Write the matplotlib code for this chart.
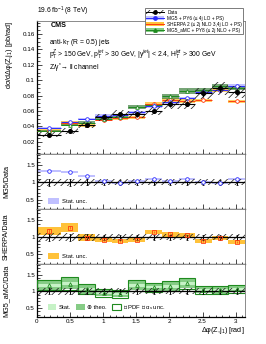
import matplotlib.pyplot as plt
import matplotlib.patches as mpatches
from matplotlib.lines import Line2D
from matplotlib.ticker import MultipleLocator, FuncFormatter
import numpy as np

plt.rcParams['font.family'] = ['Liberation Sans', 'DejaVu Sans']
plt.rcParams['mathtext.fontset'] = 'custom'
plt.rcParams['mathtext.rm'] = 'Liberation Sans'
plt.rcParams['mathtext.it'] = 'Liberation Sans:italic'
plt.rcParams['mathtext.bf'] = 'Liberation Sans:bold'
plt.rcParams['hatch.linewidth'] = 0.55

# binning in delta phi(Z, j1)
edges = np.array([0.0, 0.37, 0.62, 0.88, 1.13, 1.38, 1.63, 1.89, 2.14, 2.39, 2.64, 2.89, 3.1416])

# measured cross section [pb/rad] and relative uncertainties
data_xs = np.array([0.029, 0.0345, 0.042, 0.052, 0.0565, 0.0555, 0.060, 0.069, 0.0695, 0.083, 0.0895, 0.0845])
data_stat = np.array([0.07, 0.07, 0.06, 0.05, 0.05, 0.05, 0.05, 0.05, 0.05, 0.05, 0.05, 0.05])
data_unc = np.array([0.11, 0.11, 0.10, 0.09, 0.09, 0.09, 0.09, 0.09, 0.09, 0.09, 0.09, 0.09])

# theory / data ratios
mg5_ratio = np.array([1.33, 1.31, 1.19, 1.04, 0.97, 1.05, 1.10, 1.03, 1.10, 1.02, 0.98, 1.09])
mg5_unc = np.array([0.03] * 12)
sherpa_ratio = np.array([1.185, 1.28, 0.99, 0.93, 0.89, 0.93, 1.15, 1.08, 1.05, 0.89, 0.98, 0.86])
sherpa_unc = np.array([0.12, 0.13, 0.09, 0.07, 0.07, 0.07, 0.07, 0.07, 0.06, 0.06, 0.06, 0.06])
amc_ratio = np.array([1.18, 1.23, 1.07, 0.96, 0.92, 1.18, 1.12, 1.15, 1.24, 1.05, 1.03, 1.07])
amc_stat = np.array([0.04, 0.05, 0.04, 0.03, 0.03, 0.04, 0.03, 0.04, 0.04, 0.03, 0.03, 0.03])
amc_theo = np.array([0.13, 0.16, 0.14, 0.10, 0.09, 0.15, 0.11, 0.13, 0.15, 0.10, 0.10, 0.10])
amc_tot = np.array([0.15, 0.19, 0.16, 0.12, 0.11, 0.17, 0.13, 0.15, 0.17, 0.12, 0.12, 0.12])

centers = 0.5 * (edges[:-1] + edges[1:])
widths = np.diff(edges)
hw = 0.5 * widths

mg5 = data_xs * mg5_ratio
sherpa = data_xs * sherpa_ratio
amc = data_xs * amc_ratio

blue = '#2b2bff'
lblue = '#c0c0ff'
red = '#ff3a10'
orange = '#ffc23a'
green = '#1f8a1f'
lgreen = '#c6f2c6'
mgreen = '#86cc86'

fig = plt.figure(figsize=(2.66, 3.44), dpi=100)
L, W = 0.139, 0.782
ax0 = fig.add_axes([L, 0.552, W, 0.387])
ax1 = fig.add_axes([L, 0.392, W, 0.160])
ax2 = fig.add_axes([L, 0.233, W, 0.159])
ax3 = fig.add_axes([L, 0.078, W, 0.155])
axes = [ax0, ax1, ax2, ax3]

fs = 4.5
lfs = 5.2
fmt = FuncFormatter(lambda v, p: '%g' % round(v, 3))
for ax in axes:
    ax.set_xlim(0, np.pi)
    ax.tick_params(which='both', direction='in', labelsize=fs, pad=1.5, width=0.5,
                   top=False, right=False)
    ax.tick_params(which='major', length=3.5)
    ax.tick_params(which='minor', length=1.8)
    ax.xaxis.set_major_locator(MultipleLocator(0.5))
    ax.xaxis.set_minor_locator(MultipleLocator(0.1))
    ax.xaxis.set_major_formatter(fmt)
    ax.yaxis.set_major_formatter(fmt)
    for s in ['left', 'bottom']:
        ax.spines[s].set_linewidth(0.9)
        ax.spines[s].set_color('black')
    for s in ['top', 'right']:
        ax.spines[s].set_linewidth(0.6)
        ax.spines[s].set_color('#777777')
    if ax is not ax3:
        ax.tick_params(labelbottom=False)

# ---- main panel
ax0.set_ylim(0.004, 0.177)
ax0.yaxis.set_major_locator(MultipleLocator(0.02))
ax0.yaxis.set_minor_locator(MultipleLocator(0.005))

ax0.bar(centers, 2 * mg5 * mg5_unc, bottom=mg5 * (1 - mg5_unc), width=widths,
        color=lblue, lw=0, zorder=1)
ax0.bar(centers, 2 * sherpa * sherpa_unc * 0.5, bottom=sherpa * (1 - sherpa_unc * 0.5),
        width=widths, color=orange, alpha=0.8, lw=0, zorder=1)
ax0.bar(centers, 2 * amc * amc_stat, bottom=amc * (1 - amc_stat), width=widths,
        color='#3f7f3f', alpha=0.7, lw=0, zorder=1)
ax0.errorbar(centers, sherpa, xerr=hw, yerr=sherpa * sherpa_unc * 0.6, fmt='o', ms=2.6,
             mfc='white', mec=red, color=red, lw=0.7, mew=0.6, zorder=3)
ax0.errorbar(centers, amc, xerr=hw, fmt='^', ms=2.6, mfc='white', mec=green,
             color=green, lw=0.7, mew=0.6, zorder=3)
ax0.errorbar(centers, mg5, xerr=hw, fmt='o', ms=2.6, mfc='white', mec=blue,
             color=blue, lw=0.7, mew=0.6, zorder=3)
ax0.bar(centers, 2 * data_xs * data_unc, bottom=data_xs * (1 - data_unc), width=widths,
        fill=False, hatch='/////', edgecolor='#222222', lw=0, zorder=4)
ax0.errorbar(centers, data_xs, xerr=hw, yerr=data_xs * data_stat, fmt='o', ms=2.6,
             color='black', lw=0.8, zorder=5)

ax0.set_ylabel('dσ/dΔφ(Z,j$_1$) [pb/rad]', fontsize=lfs, loc='top')
ax0.yaxis.set_label_coords(-0.105, 1.0)

ax0.text(0.0, 1.025, '19.6 fb$^{-1}$ (8 TeV)', transform=ax0.transAxes, fontsize=4.8,
         ha='left', va='bottom')
ax0.text(0.065, 0.965, 'CMS', transform=ax0.transAxes, fontsize=5.2, weight='bold',
         ha='left', va='center')
ax0.text(0.058, 0.835, 'anti-k$_T$ (R = 0.5) jets', transform=ax0.transAxes, fontsize=4.9,
         ha='left', va='center')
ax0.text(0.058, 0.745,
         'p$_T^Z$ > 150 GeV, p$_T^{jet}$ > 30 GeV, |y$^{jet}$| < 2.4, H$_T^{jet}$ > 300 GeV',
         transform=ax0.transAxes, fontsize=4.9, ha='left', va='center')
ax0.text(0.058, 0.645, 'Z/γ$^{*}$→ ll channel', transform=ax0.transAxes, fontsize=4.9,
         ha='left', va='center')

# legend
h_data = (mpatches.Patch(facecolor='none', edgecolor='#222222', hatch='/////', lw=0),
          Line2D([], [], color='black', marker='o', ms=2.4, lw=0.7))
h_mg5 = (mpatches.Patch(color=lblue, lw=0),
         Line2D([], [], color=blue, marker='o', ms=2.4, lw=0.7))
h_sh = (mpatches.Patch(color=orange, lw=0),
        Line2D([], [], color=red, lw=0.7))
h_amc = (mpatches.Patch(color=mgreen, lw=0),
         Line2D([], [], color=green, marker='^', ms=2.4, lw=0.7))
leg = fig.legend([h_data, h_mg5, h_sh, h_amc],
                 ['Data', 'MG5 + PY6 (≤ 4j LO + PS)', 'SHERPA 2 (≤ 2j NLO 3,4j LO + PS)',
                  'MG5_aMC + PY8 (≤ 2j NLO + PS)'],
                 loc='upper left', bbox_to_anchor=(0.545, 0.976), fontsize=3.4,
                 frameon=True, fancybox=False, edgecolor='#666666', framealpha=1,
                 handlelength=3.7, handleheight=0.8, labelspacing=0.22, borderpad=0.3,
                 handletextpad=0.7, borderaxespad=0)
leg.get_frame().set_linewidth(0.6)


def ratio_base(ax):
    ax.set_ylim(0.22, 1.82)
    ax.yaxis.set_major_locator(MultipleLocator(0.5))
    ax.yaxis.set_minor_locator(MultipleLocator(0.1))
    ax.bar(centers, 2 * data_unc, bottom=1 - data_unc, width=widths, fill=False,
           hatch='/////', edgecolor='#222222', lw=0, zorder=4)
    ax.axhline(1.0, color='black', lw=0.9, zorder=5)
    ax.errorbar(centers, np.ones_like(centers), yerr=data_stat * 1.4, fmt='none',
                ecolor='black', lw=0.7, capsize=0.8, capthick=0.5, zorder=6)
    ax.yaxis.set_label_coords(-0.13, 0.5)


leg_kw = dict(loc='lower left', bbox_to_anchor=(0.04, 0.05), fontsize=4.2, frameon=False,
              handlelength=1.9, handleheight=1.2, borderaxespad=0, handletextpad=0.5)

# ---- MG5 / data
ratio_base(ax1)
ax1.bar(centers, 2 * mg5_unc, bottom=mg5_ratio - mg5_unc, width=widths, color=lblue,
        lw=0, zorder=2)
ax1.plot(centers, mg5_ratio, 'o', ms=2.6, mfc='white', mec=blue, mew=0.6, zorder=7)
ax1.set_ylabel('MG5/Data', fontsize=lfs)
ax1.legend([mpatches.Patch(color=lblue, lw=0)], ['Stat. unc.'], **leg_kw)

# ---- SHERPA / data
ratio_base(ax2)
ax2.bar(centers, 2 * sherpa_unc, bottom=sherpa_ratio - sherpa_unc, width=widths,
        color=orange, lw=0, zorder=2)
ax2.errorbar(centers, sherpa_ratio, yerr=sherpa_unc * 0.4, fmt='s', ms=2.4, mfc='none',
             mec=red, ecolor=red, mew=0.6, lw=0.5, zorder=7)
ax2.set_ylabel('SHERPA/Data', fontsize=lfs)
ax2.legend([mpatches.Patch(color=orange, lw=0)], ['Stat. unc.'], **leg_kw)

# ---- MG5_aMC / data
ratio_base(ax3)
ax3.bar(centers, 2 * amc_theo, bottom=amc_ratio - amc_theo, width=widths, color=mgreen,
        lw=0, zorder=2)
ax3.bar(centers, 2 * amc_stat, bottom=amc_ratio - amc_stat, width=widths, color=lgreen,
        lw=0, zorder=2)
ax3.bar(centers, 2 * amc_tot, bottom=amc_ratio - amc_tot, width=widths, fill=False,
        edgecolor=green, lw=0.8, zorder=3)
ax3.plot(centers, amc_ratio, '^', ms=2.6, mfc='none', mec=green, mew=0.6, zorder=7)
ax3.set_ylabel('MG5_aMC/Data', fontsize=lfs)
amc_kw = dict(leg_kw)
amc_kw.update(ncol=3, handlelength=1.5, handletextpad=0.4, columnspacing=0.9)
ax3.legend([mpatches.Patch(color=lgreen, lw=0), mpatches.Patch(color=mgreen, lw=0),
            mpatches.Patch(facecolor='white', edgecolor=green, lw=0.8)],
           ['Stat.', '⊕ theo.', '⊕ PDF ⊕ α$_s$ unc.'], **amc_kw)
ax3.set_xlabel('Δφ(Z,j$_1$) [rad]', fontsize=lfs, loc='right', labelpad=0.5)

fig.savefig('out.png', dpi=100)
